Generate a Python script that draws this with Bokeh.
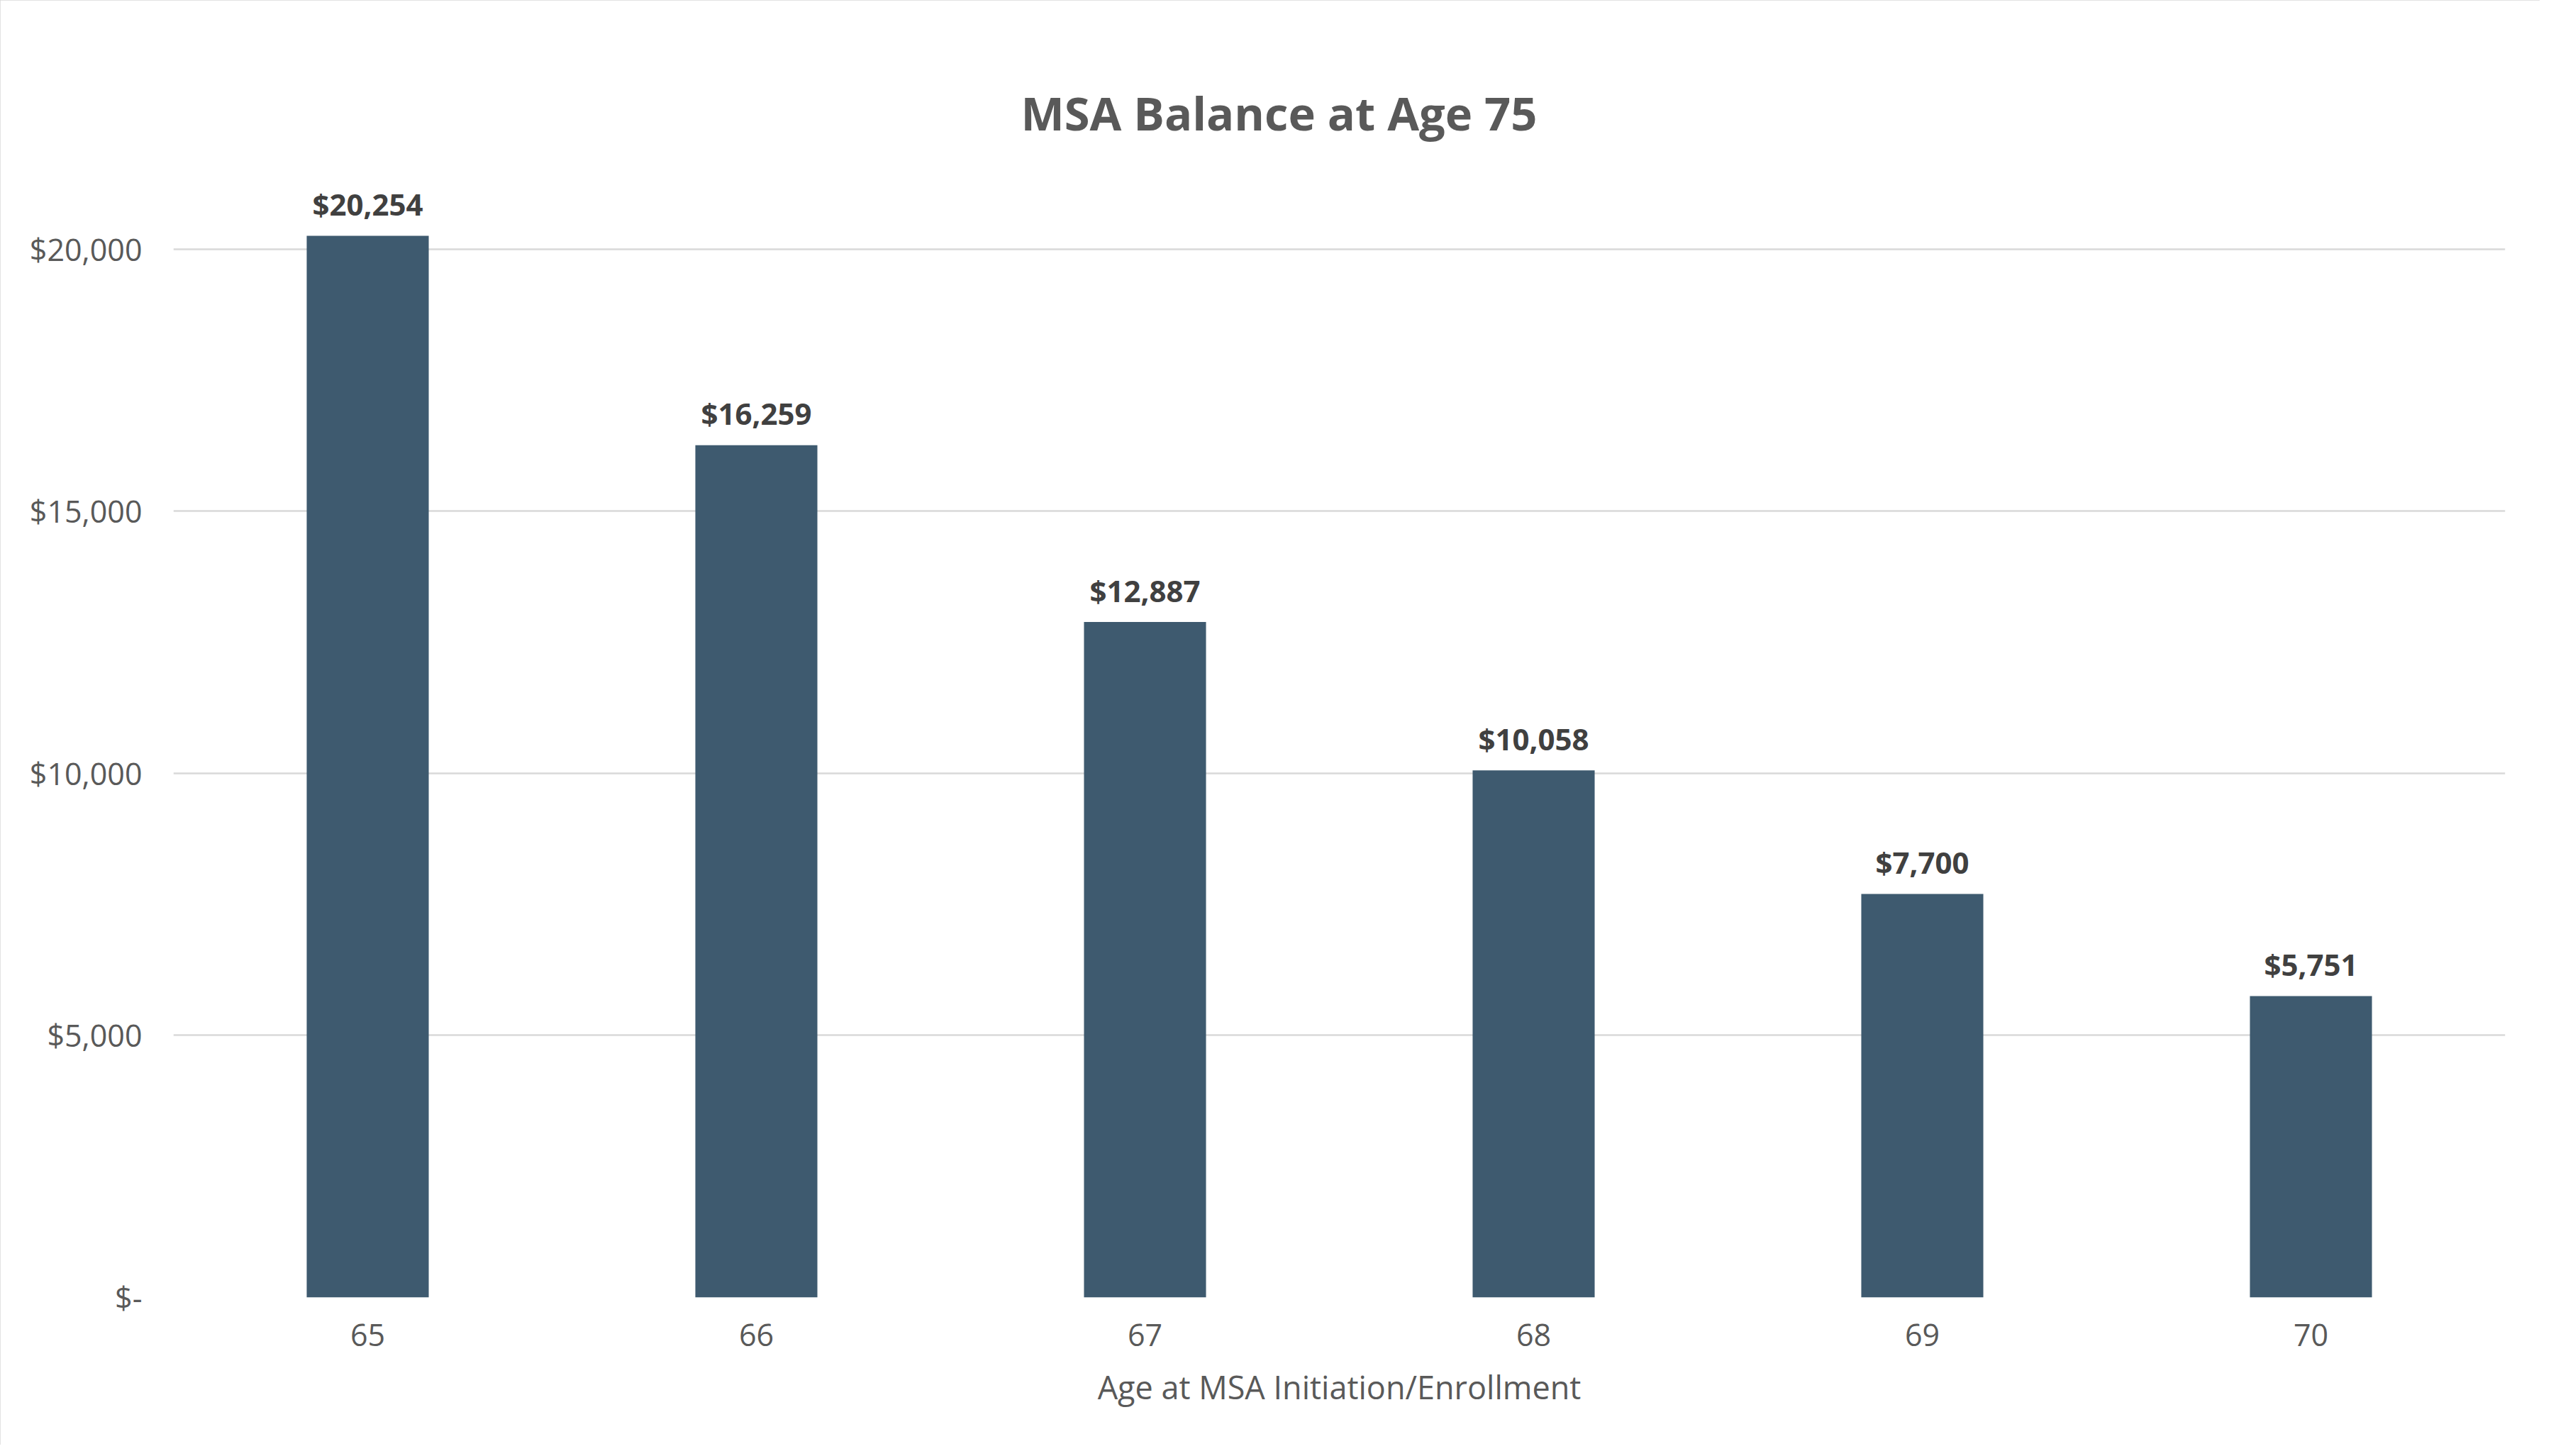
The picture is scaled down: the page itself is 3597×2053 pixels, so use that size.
from bokeh.plotting import figure
from bokeh.models import ColumnDataSource, FactorRange, Range1d, FixedTicker, Title
from bokeh.core.properties import value
from bokeh.embed import file_html
from bokeh.resources import INLINE

# ---- data ----
ages = ["65", "66", "67", "68", "69", "70"]
balances = [20254, 16259, 12887, 10058, 7700, 5751]
balance_labels = ["$20,254", "$16,259", "$12,887", "$10,058", "$7,700", "$5,751"]
y_ticks = [0, 5000, 10000, 15000, 20000]
y_tick_labels = ["$-", "$5,000", "$10,000", "$15,000", "$20,000"]
title_text = "MSA Balance at Age 75"
x_label = "Age at MSA Initiation/Enrollment"

FONT = "Open Sans"
BAR = "#3E5A6F"
GREY_TXT = "#595959"
DARK_TXT = "#404040"
GRID = "#D9D9D9"

src = ColumnDataSource(dict(age=ages, bal=balances, lab=balance_labels))

p = figure(
    width=3581, height=2037,
    x_range=FactorRange(*ages, range_padding=0),
    y_range=Range1d(0, 21500),
    output_backend="svg", toolbar_location=None, tools="",
    min_border_left=244, min_border_right=49,
    min_border_top=240, min_border_bottom=208,
)
p.styles = {"outline": "3px solid #D9D9D9", "outline-offset": "-3px"}
p.outline_line_color = None
p.background_fill_color = "white"
p.border_fill_color = "white"

p.vbar(x="age", top="bal", width=0.314, source=src, fill_color=BAR, line_color=None)
p.text(x="age", y="bal", text="lab", source=src, text_align="center",
       text_baseline="alphabetic", y_offset=-45,
       text_font=value(FONT), text_font_style="bold", text_font_size="42px",
       text_color=DARK_TXT)

# title
t = Title(text=title_text, align="left", offset=1195, standoff=76,
          text_font=FONT, text_font_size="65px", text_font_style="bold",
          text_color=GREY_TXT, vertical_align="bottom")
p.add_layout(t, "above")

# grid
p.xgrid.grid_line_color = None
p.ygrid.ticker = FixedTicker(ticks=y_ticks)
p.ygrid.grid_line_color = GRID
p.ygrid.grid_line_width = 2.5

# y axis
p.yaxis.ticker = FixedTicker(ticks=y_ticks)
p.yaxis.major_label_overrides = {t_: l for t_, l in zip(y_ticks, y_tick_labels)}
p.yaxis.axis_line_color = None
p.yaxis.major_tick_line_color = None
p.yaxis.minor_tick_line_color = None
p.yaxis.major_label_standoff = 38
p.yaxis.major_label_text_font = FONT
p.yaxis.major_label_text_font_size = "43px"
p.yaxis.major_label_text_color = GREY_TXT

# x axis
p.xaxis.axis_line_color = None
p.xaxis.major_tick_line_color = None
p.xaxis.minor_tick_line_color = None
p.xaxis.major_label_standoff = 31
p.xaxis.major_label_text_font = FONT
p.xaxis.major_label_text_font_size = "43px"
p.xaxis.major_label_text_color = GREY_TXT
p.xaxis.axis_label = x_label
p.xaxis.axis_label_standoff = 24
p.xaxis.axis_label_text_font = FONT
p.xaxis.axis_label_text_font_size = "45px"
p.xaxis.axis_label_text_font_style = "normal"
p.xaxis.axis_label_text_color = GREY_TXT

open("out.html", "w").write(file_html(p, INLINE))
